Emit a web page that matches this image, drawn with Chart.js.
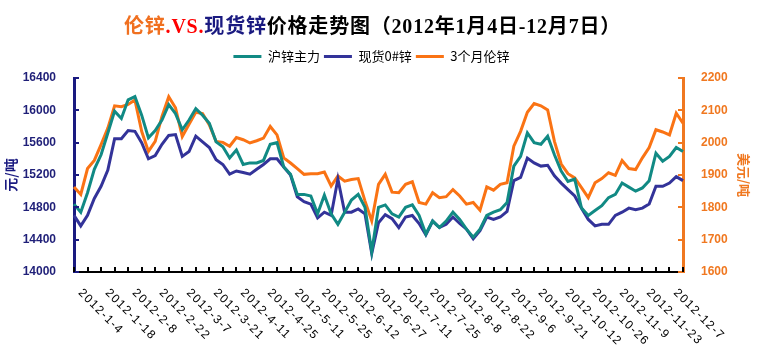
<!DOCTYPE html>
<html lang="zh-CN">
<head>
<meta charset="utf-8">
<script src="https://cdn.jsdelivr.net/npm/chart.js@4.4.1/dist/chart.umd.min.js"></script>
<style>
	body { margin:0; background:#fff; }
	#wrap { position:relative; width:761px; height:362px; }
	#title { position:absolute; left:0; top:10px; width:745px; text-align:center; white-space:nowrap; letter-spacing:0.8px;
		font-family:"Liberation Serif","Noto Sans CJK SC"; font-weight:bold; font-size:20px; color:#000; }
	#myChart { position:absolute; left:0; top:0; }
</style>
</head>
<body>
<div id="wrap">
	<canvas id="myChart" width="761" height="362"></canvas>
	<div id="title"><span style="color:#f07020">伦锌</span><span style="color:#ff0000">.VS.</span><span style="color:#1a1a80">现货锌</span>价格走势图（2012年1月4日-12月7日）</div>
</div>
<script>
// tick dates on the x axis (every 10 trading days)
var dates = ['2012-1-4','2012-1-18','2012-2-8','2012-2-22','2012-3-7','2012-3-21','2012-4-11','2012-4-25',
	'2012-5-11','2012-5-25','2012-6-12','2012-6-27','2012-7-11','2012-7-25','2012-8-8','2012-8-22',
	'2012-9-6','2012-9-21','2012-10-12','2012-10-26','2012-11-9','2012-11-23','2012-12-7'];

// 沪锌主力 (元/吨)
var shfe = [14840,14740,14980,15270,15450,15720,15990,15900,16130,16170,
	15940,15660,15750,15880,16070,15960,15760,15880,16020,15940,
	15840,15610,15550,15410,15510,15330,15350,15350,15380,15580,
	15600,15300,15210,14960,14960,14940,14720,14950,14720,14590,
	14740,14890,14960,14800,14250,14800,14830,14720,14680,14800,
	14830,14700,14470,14630,14550,14630,14740,14650,14530,14430,
	14530,14700,14740,14770,14860,15310,15430,15720,15600,15580,
	15680,15450,15250,15120,15150,14790,14700,14760,14820,14920,
	14960,15100,15050,15000,15040,15130,15470,15370,15430,15540,15490];

// 现货0#锌 (元/吨)
var spot = [14700,14570,14700,14910,15060,15260,15650,15650,15750,15740,
	15600,15400,15440,15580,15690,15700,15430,15490,15680,15610,
	15540,15390,15330,15210,15250,15230,15210,15270,15330,15400,
	15400,15300,15200,14930,14870,14840,14670,14740,14700,15150,
	14740,14740,14780,14720,14230,14610,14710,14660,14550,14680,
	14700,14600,14460,14630,14550,14590,14680,14600,14530,14410,
	14510,14680,14650,14680,14750,15130,15170,15410,15350,15310,
	15320,15190,15100,15020,14940,14790,14650,14570,14590,14590,
	14700,14740,14790,14770,14790,14840,15060,15060,15100,15180,15130];

// 3个月伦锌 (美元/吨)
var lme = [1863,1840,1920,1945,1994,2045,2114,2111,2118,2132,
	2035,1973,2004,2081,2142,2108,2019,2057,2094,2090,
	2055,2004,2001,1989,2016,2009,1999,2006,2014,2050,
	2024,1953,1937,1920,1902,1904,1904,1909,1866,1897,
	1881,1886,1889,1820,1758,1871,1902,1847,1845,1871,
	1879,1815,1810,1845,1830,1833,1855,1835,1810,1815,
	1791,1863,1853,1871,1876,1989,2035,2094,2121,2114,
	2101,2004,1934,1904,1891,1861,1830,1876,1889,1907,
	1899,1945,1920,1917,1953,1985,2040,2033,2024,2091,2060];

var labels = [];
for (var i = 0; i < lme.length; i++) {
	labels.push(i % 4 === 0 && dates[i / 4] ? dates[i / 4] : '');
}

var navy = '#1a1a80';
var orange = '#f07820';

// inner tick marks and slanted date labels
var axisExtras = {
	id: 'axisExtras',
	beforeDraw: function(chart) {
		var lg = chart.legend;
		var w = lg.width, h = lg.height;
		lg.left = -9; lg.right = w - 9;
		lg.top = 46; lg.bottom = 46 + h;
	},
	afterDraw: function(chart) {
		var ctx = chart.ctx;
		var area = chart.chartArea;
		var xs = chart.scales.x, y0 = chart.scales.y, y1 = chart.scales.y1;
		ctx.save();
		ctx.lineWidth = 2;
		ctx.strokeStyle = navy;
		y0.ticks.forEach(function(t) {
			var py = Math.round(y0.getPixelForValue(t.value));
			ctx.beginPath(); ctx.moveTo(area.left, py); ctx.lineTo(area.left + 5, py); ctx.stroke();
		});
		ctx.strokeStyle = orange;
		y1.ticks.forEach(function(t) {
			var py = Math.round(y1.getPixelForValue(t.value));
			ctx.beginPath(); ctx.moveTo(area.right, py); ctx.lineTo(area.right - 5, py); ctx.stroke();
		});
		ctx.strokeStyle = '#000';
		for (var i = 0; i < labels.length; i += 2) {
			var px = Math.round(xs.getPixelForValue(i));
			ctx.beginPath(); ctx.moveTo(px, area.bottom); ctx.lineTo(px, area.bottom - 5); ctx.stroke();
		}
		ctx.fillStyle = '#000';
		ctx.font = '12px "Liberation Sans", Arial';
		ctx.letterSpacing = '1.3px';
		ctx.textAlign = 'left';
		ctx.textBaseline = 'middle';
		dates.forEach(function(d, k) {
			var px = xs.getPixelForValue(k * 4);
			ctx.save();
			ctx.translate(px + 6, area.bottom + 19);
			ctx.rotate(Math.PI / 4);
			ctx.fillText(d, 0, 0);
			ctx.restore();
		});
		ctx.restore();
	}
};

function plain(v) { return String(v); }

var ctx = document.getElementById('myChart').getContext('2d');
var myChart = new Chart(ctx, {
	type: 'line',
	data: {
		labels: labels,
		datasets: [
			{ label: '沪锌主力', data: shfe, borderColor: '#118a84', backgroundColor: '#118a84', borderWidth: 3, yAxisID: 'y' },
			{ label: '现货0#锌', data: spot, borderColor: '#333399', backgroundColor: '#333399', borderWidth: 3, yAxisID: 'y' },
			{ label: '3个月伦锌', data: lme, borderColor: '#fa7314', backgroundColor: '#fa7314', borderWidth: 3, yAxisID: 'y1' }
		]
	},
	options: {
		responsive: false,
		animation: false,
		layout: { padding: { top: 51, left: 0, right: 0, bottom: 0 } },
		elements: { point: { radius: 0 }, line: { tension: 0 } },
		plugins: {
			tooltip: { enabled: false },
			legend: {
				position: 'top',
				labels: { usePointStyle: true, pointStyle: 'line', pointStyleWidth: 28, padding: 4, color: '#000',
					font: { family: '"Noto Sans CJK SC"', size: 13 } }
			}
		},
		scales: {
			x: {
				grid: { display: false },
				border: { color: '#000', width: 2 },
				ticks: { display: false },
				afterFit: function(s) { s.height = 90; }
			},
			y: {
				position: 'left', min: 14000, max: 16400,
				grid: { display: false },
				border: { color: navy, width: 3 },
				ticks: { stepSize: 400, padding: 10, color: '#1f1f78', callback: plain,
					font: { family: '"Liberation Sans", Arial', size: 12, weight: 'bold' } },
				title: { display: true, text: '元/吨', color: navy, padding: { top: 2, bottom: 0 },
					font: { family: '"Noto Sans CJK SC"', size: 14, weight: 'bold' } },
				afterFit: function(s) { s.width = 74; }
			},
			y1: {
				position: 'right', min: 1600, max: 2200,
				grid: { display: false },
				border: { color: orange, width: 3 },
				ticks: { stepSize: 100, padding: 10, color: orange, callback: plain,
					font: { family: '"Liberation Sans", Arial', size: 12, weight: 'bold' } },
				title: { display: true, text: '美元/吨', color: orange, padding: { top: 9, bottom: 0 },
					font: { family: '"Noto Sans CJK SC"', size: 13, weight: 'bold' } },
				afterFit: function(s) { s.width = 78; }
			}
		}
	},
	plugins: [axisExtras]
});
</script>
</body>
</html>
